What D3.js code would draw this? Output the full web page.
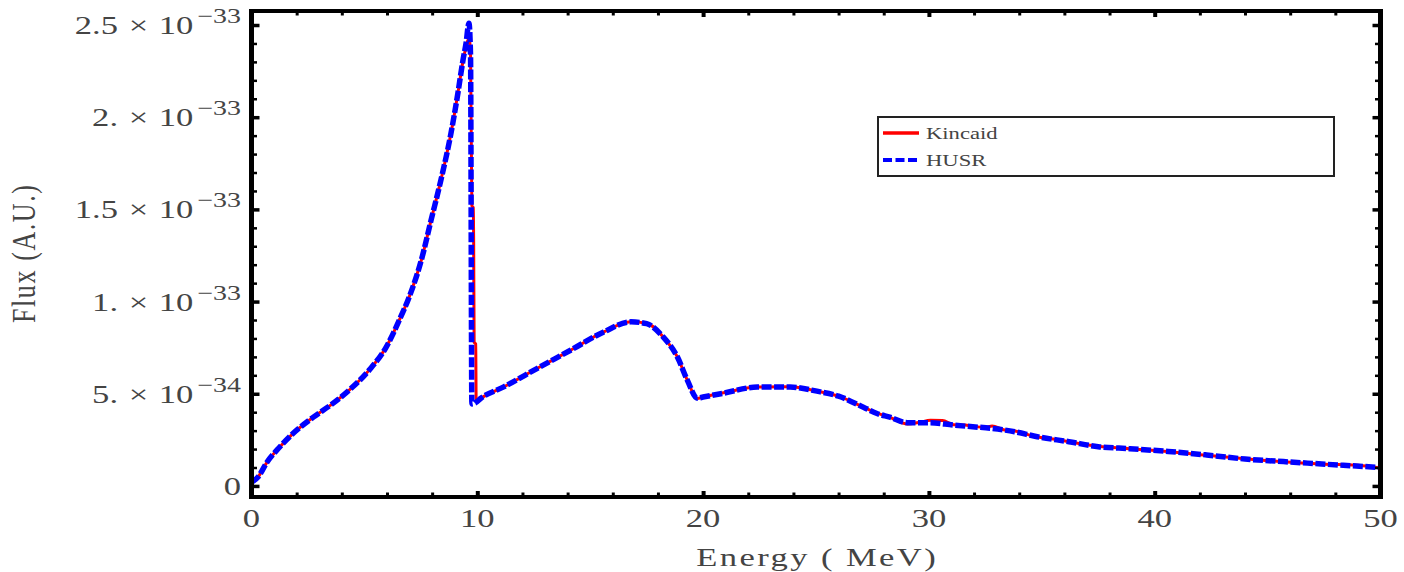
<!DOCTYPE html>
<html>
<head>
<meta charset="utf-8">
<script src="https://cdn.jsdelivr.net/npm/d3@7"></script>
<style>
  body { margin: 0; background: #fff; }
</style>
</head>
<body>
<div id="chart"></div>
<script>
// flux values are in units of 1e-34 (A.U.)
const husrEnergy = [0.0, 0.3, 0.66, 1.24, 1.86, 2.74, 3.62, 4.33, 5.21, 5.96, 6.54, 7.0, 7.51, 7.95, 8.39, 8.83, 9.14, 9.36, 9.5, 9.63,
    9.70, 9.76, 9.9, 10.16, 11.17, 12.66, 14.13, 15.6, 16.8, 17.5, 18.24, 18.86, 19.3, 19.74, 20.0, 20.9, 22.4, 23.85, 25.04,
    26.0, 27.1, 27.7, 28.27, 29.05, 30.07, 31.09, 31.94, 32.8, 33.8, 34.8, 36.2, 37.5, 38.9, 40.6, 42.3, 44.0, 45.7, 47.4, 50.0];
const husrFlux = [0.2, 0.5, 1.24, 2.1, 2.87, 3.73, 4.49, 5.2, 6.28, 7.52, 8.98, 10.3, 12.2, 14.4, 16.6, 19.1, 21.3, 23.05, 24.0, 25.1,
    23.4, 4.45, 4.5, 4.76, 5.37, 6.38, 7.36, 8.35, 8.9, 8.8, 8.07, 7.0, 5.74, 4.76, 4.82, 5.03, 5.36, 5.36, 5.14,
    4.87, 4.27, 3.93, 3.73, 3.43, 3.43, 3.30, 3.21, 3.12, 2.94, 2.67, 2.40, 2.13, 2.02, 1.87, 1.68, 1.46, 1.32, 1.19, 1.0];

const kincaidEnergy = [0.0, 0.3, 0.66, 1.24, 1.86, 2.74, 3.62, 4.33, 5.21, 5.96, 6.54, 7.0, 7.51, 7.95, 8.39, 8.83, 9.14, 9.36, 9.5, 9.63,
    9.70, 9.76, 9.82, 9.84, 9.86, 9.93, 9.95, 10.16, 11.17, 12.66, 14.13, 15.6, 16.8, 17.5, 18.24, 18.86, 19.3, 19.74, 20.0, 20.9,
    22.4, 23.85, 25.04, 26.0, 27.1, 27.7, 28.27, 29.05, 29.6, 30.07, 30.6, 31.09, 31.6, 31.94, 32.5, 32.8, 33.3, 33.8, 34.8, 35.5,
    36.2, 37.5, 38.9, 40.6, 42.3, 44.0, 45.7, 47.4, 49.2, 50.0];
const kincaidFlux = [0.2, 0.5, 1.24, 2.1, 2.87, 3.73, 4.49, 5.2, 6.28, 7.52, 8.98, 10.3, 12.2, 14.4, 16.6, 19.1, 21.3, 23.0, 23.8, 24.3,
    23.5, 15.2, 15.1, 13.1, 7.8, 7.7, 4.6, 4.76, 5.37, 6.38, 7.36, 8.35, 8.9, 8.82, 8.07, 7.0, 5.74, 4.74, 4.82, 5.05,
    5.36, 5.38, 5.14, 4.87, 4.27, 3.95, 3.72, 3.36, 3.45, 3.56, 3.55, 3.32, 3.30, 3.24, 3.18, 3.25, 3.05, 2.98, 2.65, 2.55,
    2.40, 2.15, 2.02, 1.87, 1.66, 1.47, 1.31, 1.19, 1.1, 0.98];

const seriesNames = ["Kincaid", "HUSR"];
const xMajorTicks = [0, 10, 20, 30, 40, 50];
const xTickLabels = ["0", "10", "20", "30", "40", "50"];
const yMajorTicks = [0, 5, 10, 15, 20, 25];
const yTickMantissa = ["0", "5.", "1.", "1.5", "2.", "2.5"];
const yTickExponent = ["", "\u221234", "\u221233", "\u221233", "\u221233", "\u221233"];

const width = 1404, height = 572;
const stretch = 1.33;
const textColor = "#444";
const font = "'Liberation Serif', 'Times New Roman', serif";

const x = d3.scaleLinear().domain([0, 50]).range([251.5, 1380.5]);
const y = d3.scaleLinear().domain([-0.6, 25.76]).range([497, 11]);

const svg = d3.select("#chart")
    .append("svg")
    .attr("width", width)
    .attr("height", height)
    .style("background", "#fff");

svg.append("clipPath")
    .attr("id", "plot-clip")
    .append("rect")
    .attr("x", x.range()[0])
    .attr("y", y.range()[1])
    .attr("width", x.range()[1] - x.range()[0])
    .attr("height", y.range()[0] - y.range()[1]);

const line = d3.line()
    .x(d => x(d[0]))
    .y(d => y(d[1]))
    .curve(d3.curveMonotoneX);

const kincaid = kincaidEnergy.map((e, i) => [e, kincaidFlux[i]]);
const husr = husrEnergy.map((e, i) => [e, husrFlux[i]]);

const plot = svg.append("g").attr("clip-path", "url(#plot-clip)");

plot.append("path")
    .datum(kincaid)
    .attr("d", line)
    .attr("fill", "none")
    .attr("stroke", "#ff0000")
    .attr("stroke-width", 3);

plot.append("path")
    .datum(husr)
    .attr("d", line)
    .attr("fill", "none")
    .attr("stroke", "#0000ff")
    .attr("stroke-width", 5.5)
    .attr("stroke-dasharray", "10,2.5");

// tick marks on all four sides, pointing inward
const xMinor = d3.range(0, 51, 2).filter(v => v % 10 !== 0);
const yMinor = d3.range(0, 26, 1).filter(v => v % 5 !== 0);

function drawTicks(axis, transform, values, size, sw) {
    const g = svg.append("g")
        .attr("transform", transform)
        .call(axis.tickValues(values).tickSize(size).tickFormat(""));
    g.select(".domain").remove();
    g.selectAll(".tick line").attr("stroke", "#000").attr("stroke-width", sw);
}

drawTicks(d3.axisBottom(x), `translate(0,${y.range()[0]})`, xMajorTicks, -6, 4);
drawTicks(d3.axisBottom(x), `translate(0,${y.range()[0]})`, xMinor, -4.5, 3);
drawTicks(d3.axisTop(x), `translate(0,${y.range()[1]})`, xMajorTicks, -6, 4);
drawTicks(d3.axisTop(x), `translate(0,${y.range()[1]})`, xMinor, -4.5, 3);
drawTicks(d3.axisLeft(y), `translate(${x.range()[0]},0)`, yMajorTicks, -8, 3.5);
drawTicks(d3.axisLeft(y), `translate(${x.range()[0]},0)`, yMinor, -5.5, 2.5);
drawTicks(d3.axisRight(y), `translate(${x.range()[1]},0)`, yMajorTicks, -8, 3.5);
drawTicks(d3.axisRight(y), `translate(${x.range()[1]},0)`, yMinor, -5.5, 2.5);

// frame
const [x0, x1] = x.range();
const [y0, y1] = [y.range()[1], y.range()[0]];
const frame = svg.append("g").attr("stroke", "#000");
frame.append("line").attr("x1", x0 - 2.5).attr("x2", x1 + 2.5).attr("y1", y0).attr("y2", y0).attr("stroke-width", 4);
frame.append("line").attr("x1", x0 - 2.5).attr("x2", x1 + 2.5).attr("y1", y1).attr("y2", y1).attr("stroke-width", 4);
frame.append("line").attr("x1", x0).attr("x2", x0).attr("y1", y0 - 2).attr("y2", y1 + 2).attr("stroke-width", 5);
frame.append("line").attr("x1", x1).attr("x2", x1).attr("y1", y0 - 2).attr("y2", y1 + 2).attr("stroke-width", 5);

// x tick labels
xMajorTicks.forEach((v, i) => {
    svg.append("g")
        .attr("transform", `translate(${x(v)},527) scale(${stretch},1)`)
        .append("text")
        .attr("text-anchor", "middle")
        .attr("font-family", font)
        .attr("font-size", 26)
        .attr("fill", textColor)
        .text(xTickLabels[i]);
});

// y tick labels (mantissa × 10^exponent)
yMajorTicks.forEach((v, i) => {
    const t = svg.append("g")
        .attr("transform", `translate(241,${y(v) + 9}) scale(${stretch},1)`)
        .append("text")
        .attr("text-anchor", "end")
        .attr("font-family", font)
        .attr("font-size", 26)
        .attr("fill", textColor);
    if (yTickExponent[i] === "") {
        t.text(yTickMantissa[i]);
        return;
    }
    t.append("tspan").text(yTickMantissa[i]);
    t.append("tspan").attr("dx", 8).text("\u00d7");
    t.append("tspan").attr("dx", 8).text("10");
    t.append("tspan").attr("dx", 3).attr("dy", -11).attr("font-size", 21).text(yTickExponent[i]);
});

// axis titles
svg.append("g")
    .attr("transform", `translate(${(x0 + x1) / 2},566) scale(${stretch},1)`)
    .append("text")
    .attr("text-anchor", "middle")
    .attr("font-family", font)
    .attr("font-size", 26)
    .attr("fill", textColor)
    .attr("textLength", 180)
    .attr("lengthAdjust", "spacing")
    .attr("xml:space", "preserve")
    .text("Energy ( MeV)");

svg.append("g")
    .attr("transform", `translate(35,${(y0 + y1) / 2}) scale(${stretch},1) rotate(-90)`)
    .append("text")
    .attr("text-anchor", "middle")
    .attr("font-family", font)
    .attr("font-size", 26)
    .attr("fill", textColor)
    .attr("textLength", 138)
    .attr("lengthAdjust", "spacing")
    .text("Flux (A.U.)");

// legend
const legend = svg.append("g");
legend.append("rect")
    .attr("x", 878).attr("y", 117)
    .attr("width", 456).attr("height", 59)
    .attr("fill", "#fff")
    .attr("stroke", "#222")
    .attr("stroke-width", 2);

const legendStyles = [
    { color: "#ff0000", width: 3.5, dash: null },
    { color: "#0000ff", width: 4, dash: "9,3.5" }
];
seriesNames.forEach((name, i) => {
    const ly = 133 + i * 27;
    legend.append("line")
        .attr("x1", 883).attr("x2", 919)
        .attr("y1", ly).attr("y2", ly)
        .attr("stroke", legendStyles[i].color)
        .attr("stroke-width", legendStyles[i].width)
        .attr("stroke-dasharray", legendStyles[i].dash);
    legend.append("g")
        .attr("transform", `translate(926,${ly + 5.5}) scale(${stretch},1)`)
        .append("text")
        .attr("font-family", font)
        .attr("font-size", 17)
        .attr("fill", textColor)
        .text(name);
});
</script>
</body>
</html>
